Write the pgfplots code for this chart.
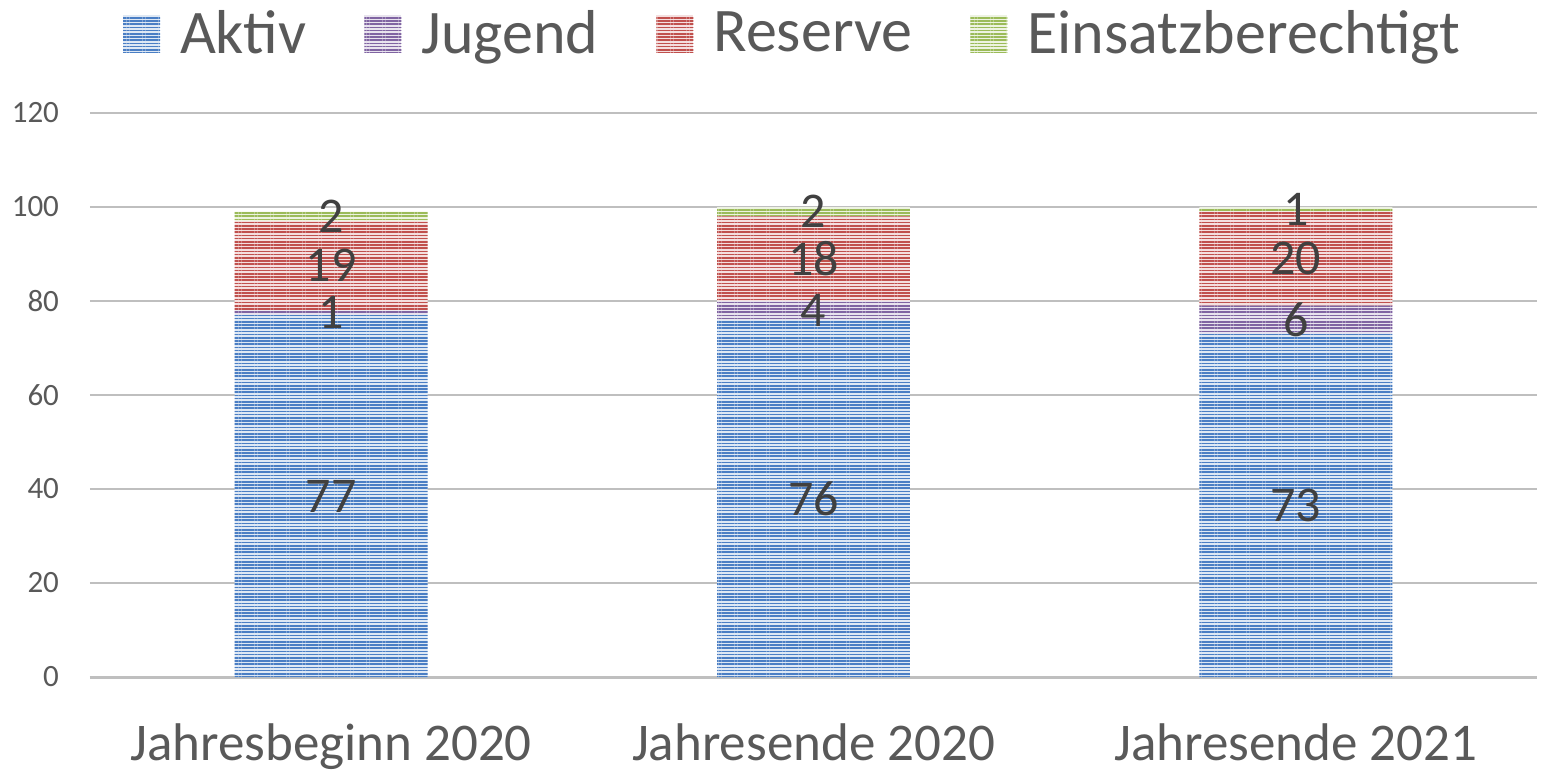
\documentclass[border=0pt]{standalone}
\usepackage{pgfplots}
\pgfplotsset{compat=1.18}
\usepackage{pgfplotstable}
\usetikzlibrary{patterns.meta}
\usepackage{fontspec}
\setmainfont{Carlito}
\definecolor{cblue}{HTML}{4A7EC4}
\definecolor{cpurple}{HTML}{8064A2}
\definecolor{cred}{HTML}{C0504D}
\definecolor{cgreen}{HTML}{9BBB59}
\definecolor{txt}{HTML}{595959}
\definecolor{lbl}{HTML}{404040}
\definecolor{grid}{HTML}{D9D9D9}
\definecolor{axisc}{HTML}{BFBFBF}
\pgfplotstableread{
x aktiv jugend reserve einsatz
0 77 1 19 2
1 76 4 18 2
2 73 6 20 1
}\data
\tikzset{
  barpat/.style={fill=#1!18, draw=none, postaction={pattern={Lines[angle=0,distance=1.6pt,line width=0.85pt]}, pattern color=#1}},
}
\begin{document}
\begin{tikzpicture}
\begin{axis}[
  at={(0,0)}, anchor=south west,
  scale only axis,
  width=723.5pt, height=282pt,
  ybar stacked, bar width=0.4,
  xmin=-0.5, xmax=2.5,
  ymin=0, ymax=120,
  ytick={0,20,...,120},
  xtick=data,
  xticklabels={Jahresbeginn 2020, Jahresende 2020, Jahresende 2021},
  major tick length=0pt,
  xmajorgrids=false,
  ymajorgrids=true, grid style={grid, line width=0.75pt},
  axis x line*=bottom,
  axis y line*=left,
  y axis line style={draw=none},
  x axis line style={axisc, line width=1.5pt, -},
  /pgf/number format/assume math mode=true,
  yticklabel style={font=\fontsize{15.5pt}{18pt}\selectfont, text=txt, anchor=east, xshift=-12pt},
  xticklabel style={font=\fontsize{26.5pt}{30pt}\selectfont, text=txt, anchor=north, yshift=-20pt},
  point meta=explicit,
  nodes near coords,
  every node near coord/.append style={font=\fontsize{25pt}{28pt}\selectfont, text=lbl, anchor=center},
  legend columns=4,
  legend style={at={(0.5,1)}, anchor=south, xshift=-10pt, yshift=24pt, draw=none, fill=none,
    font=\fontsize{31pt}{36pt}\selectfont, text=txt,
    /tikz/every odd column/.append style={column sep=8pt},
    /tikz/every even column/.append style={column sep=27pt}},
  legend image code/.code={\path[#1] (0pt,-9.25pt) rectangle (18.5pt,9.25pt);},
]
\addplot[barpat=cblue] table[x=x, y=aktiv, meta=aktiv] {\data};
\addplot[barpat=cpurple] table[x=x, y=jugend, meta=jugend] {\data};
\addplot[barpat=cred] table[x=x, y=reserve, meta=reserve] {\data};
\addplot[barpat=cgreen] table[x=x, y=einsatz, meta=einsatz] {\data};
\legend{Aktiv, Jugend, Reserve, Einsatzberechtigt}
\end{axis}
\pgfresetboundingbox
\useasboundingbox (-45pt,-48pt) rectangle (726.5pt,338.5pt);
\end{tikzpicture}
\end{document}
